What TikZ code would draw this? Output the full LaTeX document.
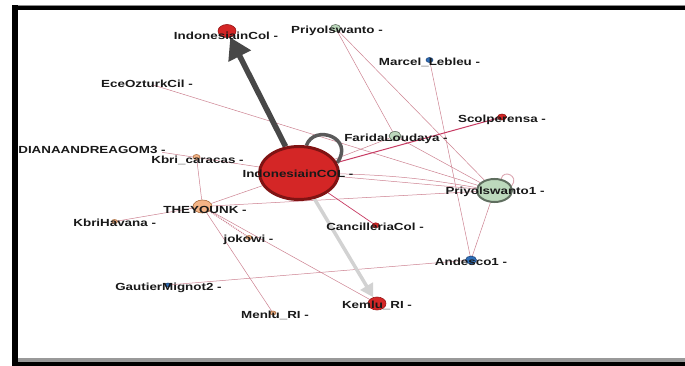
\documentclass[tikz,border=0pt]{standalone}
\usepackage{fontspec}
\newfontfamily\lblfont{Liberation Sans}[FakeStretch=1.3]
\usetikzlibrary{shapes.geometric, backgrounds, arrows.meta}
\definecolor{nodered}{RGB}{212,38,38}
\definecolor{noderedline}{RGB}{150,22,22}
\definecolor{nodegreen}{RGB}{188,217,188}
\definecolor{nodegreenline}{RGB}{95,110,95}
\definecolor{nodetan}{RGB}{244,180,134}
\definecolor{nodetanline}{RGB}{170,110,65}
\definecolor{nodeblue}{RGB}{47,111,184}
\definecolor{nodeblueline}{RGB}{30,70,125}
\definecolor{tiepink}{RGB}{205,130,145}
\definecolor{tiecrimson}{RGB}{200,60,100}
\definecolor{heavygray}{RGB}{72,72,72}
\definecolor{lightgray}{RGB}{210,210,210}

\begin{document}
\begin{tikzpicture}[
    x=1pt, y=-1pt,
    dot/.style={ellipse, draw, inner sep=0pt, line width=0.6pt},
    reddot/.style={dot, fill=nodered, draw=noderedline},
    greendot/.style={dot, fill=nodegreen, draw=nodegreenline},
    tandot/.style={dot, fill=nodetan, draw=nodetanline},
    bluedot/.style={dot, fill=nodeblue, draw=nodeblueline},
    hidden/.style={ellipse, inner sep=0pt, minimum width=4pt, minimum height=3pt},
    lbl/.style={font=\lblfont\bfseries\fontsize{10.3}{12}\selectfont, text=black!90, inner sep=0pt},
    tie/.style={draw=tiepink, line width=0.5pt},
    tiedot/.style={draw=tiepink, line width=1.2pt, dash pattern=on 1pt off 1pt},
    tiered/.style={draw=tiecrimson, line width=1pt},
    heavyarrow/.style={draw=heavygray, line width=5.5pt, -{Triangle[length=21pt, width=24pt]}},
    lightarrow/.style={draw=lightgray, line width=3.5pt, -{Triangle[length=13pt, width=14pt]}},
    selfloop/.style={draw=heavygray!90, line width=3.5pt}
  ]
  \useasboundingbox (0,0) rectangle (685,366);

  \node[reddot, minimum width=79pt, minimum height=53pt, line width=3pt, draw=noderedline!85!black] (icol) at (299,173) {};
  \node[reddot, minimum width=18pt, minimum height=13pt] (incol) at (227,31) {};
  \node[greendot, minimum width=10pt, minimum height=7pt] (pri) at (335.5,28) {};
  \node[bluedot, minimum width=7pt, minimum height=5pt] (marcel) at (429.5,60) {};
  \node[hidden] (ece) at (150,84) {};
  \node[reddot, minimum width=9pt, minimum height=6pt] (scol) at (502,117) {};
  \node[greendot, minimum width=12pt, minimum height=9pt] (farida) at (395,136) {};
  \node[hidden] (diana) at (160,152) {};
  \node[tandot, minimum width=7pt, minimum height=5pt] (caracas) at (196.5,157) {};
  \node[tandot, minimum width=19pt, minimum height=13pt] (they) at (202.5,206.5) {};
  \node[tandot, minimum width=6pt, minimum height=4pt] (havana) at (114.5,221.5) {};
  \node[tandot, minimum width=6pt, minimum height=4pt] (jokowi) at (249,237.5) {};
  \node[reddot, minimum width=7pt, minimum height=5pt] (cancil) at (375.7,225.3) {};
  \node[greendot, minimum width=35pt, minimum height=23pt, line width=2pt] (pri1) at (494.5,190.5) {};
  \node[bluedot, minimum width=11pt, minimum height=8pt] (andesco) at (471,260) {};
  \node[bluedot, minimum width=6pt, minimum height=4pt] (gautier) at (168,285) {};
  \node[reddot, minimum width=18pt, minimum height=13pt] (kemlu) at (377,303.5) {};
  \node[tandot, minimum width=6pt, minimum height=4pt] (menlu) at (273,313) {};

  \begin{scope}[on background layer]
    \fill[white] (0,0) rectangle (685,366);
    \draw[tie] (ece) -- (pri1);
    \draw[tie] (pri) -- (farida);
    \draw[tie] (pri) -- (pri1);
    \draw[tie] (marcel) -- (andesco);
    \draw[tie] (farida) -- (pri1);
    \draw[tie] (farida) -- (icol);
    \draw[tie] (diana) -- (icol);
    \draw[tie] (icol) -- (pri1);
    \draw[tie] (icol) to[bend left=4] (pri1);
    \draw[tie] (caracas) -- (they);
    \draw[tie] (havana) -- (they);
    \draw[tie] (they) -- (icol);
    \draw[tie] (they) -- (pri1);
    \draw[tie] (they) -- (menlu);
    \draw[tie] (they) -- (kemlu);
    \draw[tiedot] (they) -- (jokowi);
    \draw[tie] (gautier) -- (andesco);
    \draw[tie] (andesco) -- (pri1);
    \draw[tiered] (scol) -- (icol);
    \draw[tiered, line width=0.7pt] (icol) -- (cancil);
    \draw[heavyarrow] (icol) -- (incol);
    \draw[lightarrow] (icol) -- (kemlu);
    \draw[selfloop] (icol.75) .. controls +(8,-22) and +(18,-25) .. (icol.15);
    \draw[tie, line width=0.9pt, draw=tiepink!70] (pri1.60) .. controls +(2,-10) and +(8,-10) .. (pri1.15);
  \end{scope}

  \node[lbl] (icolT) at (298,174) {IndonesiainCOL -};
  \node[lbl] (incolT) at (226,36) {IndonesiainCol -};
  \node[lbl] (priT) at (337,31) {Priyolswanto -};
  \node[lbl] (marcelT) at (429.5,62) {Marcel\_Lebleu -};
  \node[lbl] (eceT) at (147,83.5) {EceOzturkCil -};
  \node[lbl] (scolT) at (502,120) {Scolperensa -};
  \node[lbl] (faridaT) at (396,139) {FaridaLoudaya -};
  \node[lbl] (dianaT) at (92,150) {DIANAANDREAGOM3 -};
  \node[lbl] (caracasT) at (197.5,160) {Kbri\_caracas -};
  \node[lbl] (theyT) at (205,210) {THEYOUNK -};
  \node[lbl] (havanaT) at (114.7,223) {KbriHavana -};
  \node[lbl] (jokowiT) at (248.5,239.5) {jokowi -};
  \node[lbl] (cancilT) at (375,227) {CancilleriaCol -};
  \node[lbl] (pri1T) at (495,192) {Priyolswanto1 -};
  \node[lbl] (andescoT) at (471,262) {Andesco1 -};
  \node[lbl] (gautierT) at (168.5,287.5) {GautierMignot2 -};
  \node[lbl] (kemluT) at (377,305.5) {Kemlu\_RI -};
  \node[lbl] (menluT) at (275,315) {Menlu\_RI -};

  \fill[black!45] (12,5) rectangle (685,6);
  \fill[black] (12,6) rectangle (685,10.5);
  \fill[black] (12,5) rectangle (17.5,366);
  \fill[black!40] (17.5,358) rectangle (685,362);
  \fill[black] (12,362) rectangle (685,366);
\end{tikzpicture}
\end{document}
